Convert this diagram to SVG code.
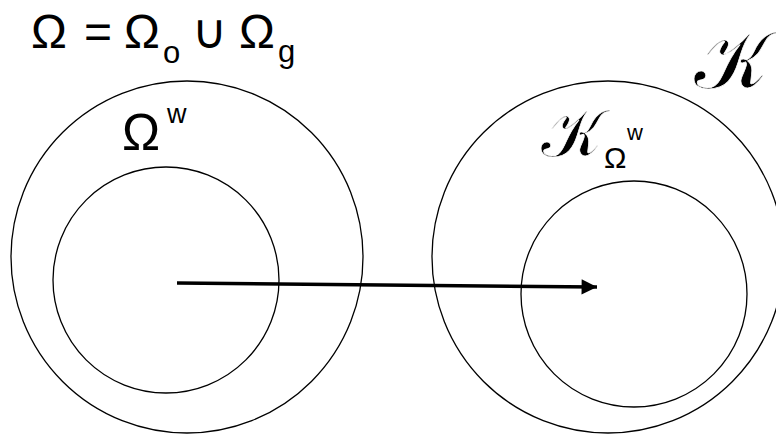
<svg xmlns="http://www.w3.org/2000/svg" width="776" height="435" viewBox="0 0 776 435">
<style>
.c{fill:none;stroke:#000;stroke-width:1.3}
.t{font-family:"Liberation Sans","Open Sans","DejaVu Sans",sans-serif;fill:#000}
.big{font-size:48px}
.sm{font-size:31px}
.scr{font-family:"DejaVu Serif","Liberation Serif",serif;fill:#000;stroke:#fff;stroke-width:0.7}
</style>
<defs>
<marker id="ah" viewBox="0 0 10 10" refX="10" refY="5" markerWidth="4.6" markerHeight="4.4" orient="auto" markerUnits="strokeWidth">
<path d="M0,0 L10,5 L0,10 Z" fill="#000"/>
</marker>
</defs>
<rect width="776" height="435" fill="#fff"/>
<g id="omega-formula">
<text class="t big" y="48"><tspan x="31">Ω</tspan><tspan x="84">=</tspan><tspan x="124">Ω</tspan><tspan class="sm" x="163" y="63">o</tspan><tspan x="192" y="48">∪</tspan><tspan x="239">Ω</tspan><tspan class="sm" x="278" y="62">g</tspan></text>
</g>
<g id="omega-domain">
<circle class="c" cx="187" cy="257" r="176"/>
<text class="t" font-size="51" y="150"><tspan x="122">Ω</tspan><tspan font-size="27" x="167" y="123">w</tspan></text>
</g>
<g id="omega-w">
<circle class="c" cx="166" cy="280" r="113"/>
</g>
<g id="K-space">
<circle class="c" cx="608" cy="257" r="176"/>
<text class="scr" font-size="80" x="694" y="88">𝒦</text>
</g>
<g id="K-omega-w">
<circle class="c" cx="634" cy="294" r="113"/>
<text class="scr" font-size="66" x="541" y="156">𝒦</text>
<text class="t" font-size="30" y="168"><tspan x="604">Ω</tspan><tspan font-size="22" x="627" y="140">w</tspan></text>
</g>
<g id="connectors">
<line x1="177" y1="283" x2="597" y2="287" stroke="#000" stroke-width="3.5" marker-end="url(#ah)"/>
</g>
</svg>
